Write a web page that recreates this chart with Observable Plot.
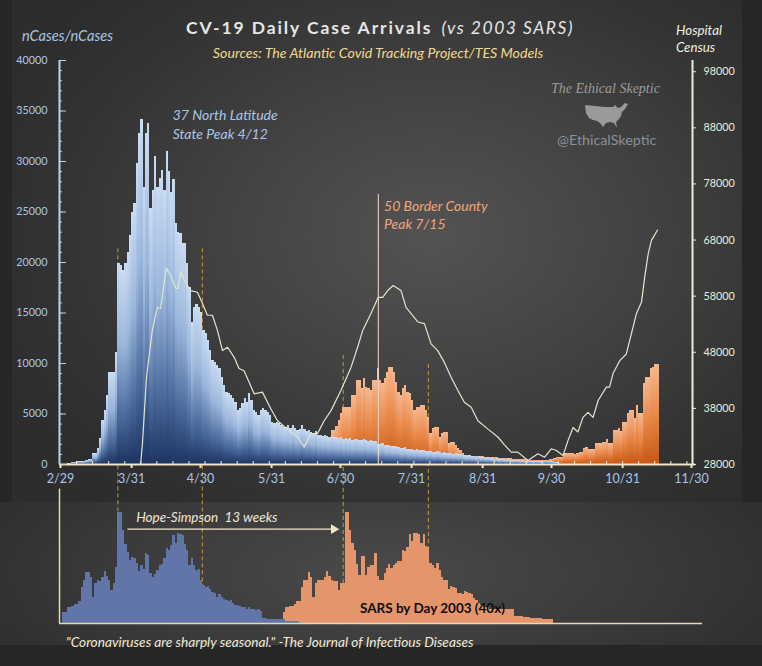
<!DOCTYPE html>
<html><head><meta charset="utf-8">
<script src="https://cdn.jsdelivr.net/npm/d3@7"></script>
<script src="https://cdn.jsdelivr.net/npm/@observablehq/plot@0.6"></script>
<style>
html,body{margin:0;padding:0;background:#262626;}
#wrap{position:relative;width:762px;height:666px;overflow:hidden;font-family:Lato,"Open Sans",sans-serif;}
.abs{position:absolute;white-space:nowrap;}
#mainbg{left:12px;top:0;width:730px;height:502px;background:radial-gradient(ellipse 470px 330px at 420px 235px,#535353 0%,#424242 45%,#333 80%,#2d2d2d 100%);}
#botbg{left:0;top:502px;width:762px;height:143px;background:radial-gradient(ellipse 430px 150px at 380px 70px,#4a4a4a 0%,#3c3c3c 55%,#2f2f2f 100%);}
</style></head>
<body>
<svg width="0" height="0" style="position:absolute"><defs>
<linearGradient id="blueG" x1="0" y1="0" x2="0" y2="1">
<stop offset="0" stop-color="#cadcf2"/><stop offset="0.4" stop-color="#9bb6dc"/><stop offset="0.75" stop-color="#4d6c9d"/><stop offset="1" stop-color="#1c3462"/>
</linearGradient>
<linearGradient id="orangeG" x1="0" y1="0" x2="0" y2="1">
<stop offset="0" stop-color="#f6b890"/><stop offset="0.5" stop-color="#e8884a"/><stop offset="1" stop-color="#c65812"/>
</linearGradient>
</defs></svg>
<div id="wrap">
<div id="mainbg" class="abs"></div>
<div id="botbg" class="abs"></div>
<div id="main" class="abs" style="left:0;top:0"></div>
<div id="over" class="abs" style="left:0;top:0"></div>
<div id="bot" class="abs" style="left:0;top:485px"></div>
<div class="abs" style="left:0;width:760px;top:17px;text-align:center;font-size:17.5px;line-height:22px;color:#e6e6e6;">
<span style="font-weight:700;letter-spacing:1.9px">CV-19 Daily Case Arrivals</span>&nbsp;&nbsp;<span style="font-style:italic;letter-spacing:1.5px">(vs 2003 SARS)</span></div>
<div class="abs" style="left:0;width:756px;top:44px;text-align:center;font-size:14.2px;line-height:18px;font-style:italic;color:#f1d98e;">Sources: The Atlantic Covid Tracking Project/TES Models</div>
<div class="abs" style="left:22px;top:27px;font-size:14.6px;line-height:18px;font-style:italic;color:#a8c4e4;">nCases/nCases</div>
<div class="abs" style="left:676px;top:22px;font-size:13.3px;line-height:16.5px;font-style:italic;color:#eef0e0;">Hospital<br>Census</div>
<div class="abs" style="left:551px;top:80px;font-size:14px;line-height:18px;font-style:italic;font-family:'Liberation Serif',serif;color:#9c9c9c;">The Ethical Skeptic</div>
<svg class="abs" style="left:585px;top:102px" width="43" height="27" viewBox="0 0 43 27"><path d="M0,3 L10,4 L20,5 L28,5 L30,3 L33,6 L36,5 L40,1 L43,2 L40,7 L37,10 L36,14 L34,17 L31,20 L32,26 L29,21 L25,20 L21,21 L18,25 L15,21 L12,19 L8,18 L4,16 L1,11 Z" fill="#9a9a9a"/></svg>
<div class="abs" style="left:557px;top:131px;font-size:14.3px;line-height:18px;color:#8a9098;">@EthicalSkeptic</div>
<div class="abs" style="left:66px;top:633px;font-size:13.7px;line-height:18px;font-style:italic;color:#efe9d5;">"Coronaviruses are sharply seasonal." -The Journal of Infectious Diseases</div>
</div>
<script>
// ---------- data ----------
const monthTickDates = ["2020-02-29","2020-03-31","2020-04-30","2020-05-31","2020-06-30","2020-07-31","2020-08-31","2020-09-30","2020-10-31","2020-11-30"];
const monthTickLabels = ["2/29","3/31","4/30","5/31","6/30","7/31","8/31","9/30","10/31","11/30"];
const leftTicks = [0,5000,10000,15000,20000,25000,30000,35000,40000];
const rightTicks = [28000,38000,48000,58000,68000,78000,88000,98000];

// day offsets are counted from 2/29/2020
const blueStart = 1;
const blueCases = [30,40,50,80,230,200,250,280,260,300,400,480,500,1050,1050,1580,2540,4360,5350,6830,9140,9140,9140,11120,
19870,19700,19200,19930,21020,22670,24980,25800,29770,32740,34150,27450,32740,33730,25310,27130,30500,27450,28280,29100,27130,31020,29000,
26960,28210,23830,23000,22840,21850,21850,19870,17550,14090,15570,15840,15570,15080,13270,12940,12280,11290,10300,10130,9800,9470,8640,7820,7160,6990,6830,6500,6170,5350,5510,6010,6500,6170,6990,6340,5350,5180,4850,5350,5510,5350,5180,4850,4190,4030,4190,4030,3860,3700,3700,3860,3530,3860,3530,3370,3500,
3860,3500,3300,3400,3200,3100,3300,2900,2870,2800,2900,2750,2700,2800,2700,2650,2600,2700,2500,2600,2450,2550,2400,2500,2450,2400,2350,2450,2400,2300,2350,2300,2250,2000,1950,2050,1900,1850,1900,1800,1750,1800,1700,1600,1550,1650,1500,1450,1500,1400,1450,1400,1350,1400,1300,1250,1300,1200,1150,1250,1200,1100,1150,1100,1050,1100,1000,1050,950,1000,900,850,800,850,750,800,700,750,650,700,600,650,600,550,500,550,450,500,450,400,450,400,350,400,350,300,350,300,250,300,280,250,300,280,250,300,320,300,280,250,200,150];

const orangeStart = 118;
const orangeCases = [3370,3370,3800,4360,5050,5670,5670,5670,5670,6830,6830,8310,8310,7490,8480,7650,7490,7320,8310,8310,9470,8310,7990,8480,9140,9630,9630,9140,8150,7160,6830,7490,7820,7160,6990,6340,5350,5670,5670,5840,5840,5350,4690,3040,3530,3700,3700,2700,3040,3200,3200,2050,2210,2210,1880,1550,1390,1060,
900,880,850,820,800,800,780,760,750,720,700,
700,680,650,650,620,600,600,580,560,550,540,520,500,500,
480,460,450,440,430,420,420,400,400,380,400,420,450,500,600,
730,730,730,1060,1060,1100,1060,1060,1000,1060,1220,1220,1620,1650,1500,1500,1450,2050,2100,2050,2210,2210,2440,2050,2100,3370,3370,3530,3270,4190,4190,5020,5350,5350,4520,5840,5020,5020,7990,8640,8640,9470,9630,9900,9900];

const censusDays = [34.9,35.7,37.5,40.0,42.2,43.6,46.1,48.0,50.2,51.2,52.4,54.5,56.7,59.7,61.9,64.0,66.2,68.4,70.6,72.8,75.7,77.8,80.0,84.4,88.0,91.7,94.6,98.9,103.3,106.2,109.1,112.0,114.9,117.9,122.2,126.6,129.5,131.7,135.3,138.5,140.4,142.6,145.0,148.4,150.6,152.8,155.7,158.6,161.5,164.4,167.3,170.2,173.2,176.0,179.0,181.9,186.3,190.6,193.5,196.4,199.3,203.7,208.1,211.0,213.9,216.1,219.0,221.2,223.4,225.5,227.7,229.9,232.1,234.3,237.9,239.3,240.8,243.7,246.6,248.8,251.0,253.2,254.6,256.1,257.5,260.2];
const censusValues = [28000,31700,43600,51900,56000,55800,63000,61700,59400,59400,62300,60500,59000,58700,56700,54600,54600,51900,48300,48900,47100,45100,44700,40600,40900,37900,35800,34300,32900,31100,33500,33500,35800,37600,41200,45300,48900,51900,54900,57800,57800,59000,59900,59000,56000,54900,53400,53100,49500,48300,46200,43600,41200,39100,38200,35800,34300,32900,31500,30200,30200,28700,29900,29300,30800,30500,29600,32300,34600,33800,36400,37300,36400,39400,41800,41800,44200,46500,47700,51300,54900,56900,61400,65500,67900,69800];

const sarsBlueStart = 1;
const sarsBlue = [9.4,9.4,13.6,13.6,14.4,15.8,15.8,18,30,36,42.8,42.8,38,22,33,36,35,38,43,39,36,27.5,33,47,92.8,92.8,77.5,66,59,52.5,55,54,50,43,48,45,58,57,42,38,41,44,48,49,54,62.5,61,65,73,67,75,74,73,66,61,48,54,48,44,45,36,32,30,31,28,26,25,22,24,22,20,19,18,19,16.7,15.3,15.3,14.4,13.6,13,12,13.6,12,12,10.6,12,10,4,4,3,3,3,3,3,3,3,3,1.6,1.6,1.6,1.6,1.6,1.6];
const sarsOrangeStart = 97;
const sarsOrange = [9.4,13.6,13.6,14.4,14.4,15.8,18,18,30,36,36,42.8,38,22,33,36,36,36,38,43,39,36,35,35,27.5,33,33,92.8,92.8,77.5,67,61,49,40,56,56,40,47,48,48,58,39,36,36,42,46,49,46,48,50,52,52,61,60,63,74.5,68.5,75,75,74,67,74,64,63,50,48,46,50,44,38,36,36,28,30.5,30,29,25,25,24,27,26,25,24,21,19,17,15,14,13.6,13.6,12,12,12,12,12,12,12,12,12,12,12,6,6,6,6,5,5,5,4,4,4,4,4,3,3,3,3,3];

const dashDays = [25, 61.8, 123.2, 160.3];
const dashTops = [21350, 21350, 10800, 9900];
const dashBottomCases = -15740;   // SARS panel baseline, expressed in case units
const peakLineDay = 138.5, peakLineTop = 26730;
const annotations = [
  {day:48.9, value:33760, text:"37 North Latitude\nState Peak 4/12", color:"#a9c6e8"},
  {day:141, value:24815, text:"50 Border County\nPeak 7/15", color:"#f2a677"}
];
const hopeStartDay = 29.4, hopeWeeks = 13, hopeLevel = 78.6;
const sarsAxisTop = 112;
const hopeNote = {day:33, value:88.3, text:"Hope-Simpson  13 weeks"};
const sarsNote = {day:130.5, value:12, text:"SARS by Day 2003 (40x)"};

// ---------- helpers ----------
const DAY = 864e5, T0 = Date.UTC(2020,1,29);
const day = n => new Date(T0 + n*DAY);
const xDomain = [day(0), day(275)];
const monthDates = monthTickDates.map(s => new Date(s + "T00:00:00Z"));
const monthLabel = d => monthTickLabels[monthDates.findIndex(m => +m === +d)] ?? "";
const weekTicks = d3.range(7, 275, 7).map(day);
const minorLeft = d3.range(0, 40001, 1000);
const toBars = (start, vals) => vals.map((v,i) => ({x1:day(start+i), x2:day(start+i+1), v}));
const layout = {width:762, height:666, marginLeft:60, marginRight:71, marginTop:60, marginBottom:202};
const baseStyle = {background:"transparent", overflow:"visible", fontFamily:"Lato, 'Open Sans', sans-serif"};

const blue = toBars(blueStart, blueCases);
const orange = toBars(orangeStart, orangeCases);
const census = censusDays.map((d,i) => ({x:day(d), v:censusValues[i]}));
const dashes = dashDays.map((d,i) => ({x:day(d), top:dashTops[i]}));

// ---------- main panel ----------
const main = Plot.plot({...layout, style:baseStyle,
  x:{type:"utc", domain:xDomain, label:null},
  y:{domain:[0,40000], label:null},
  marks:[
    Plot.ruleX(dashes, {x:"x", y1:"top", y2:dashBottomCases, stroke:"#c99a3a", strokeWidth:1, strokeDasharray:"4,3"}),
    Plot.rectY(orange, {x1:"x1", x2:"x2", y1:0, y2:"v", fill:"url(#orangeG)", shapeRendering:"crispEdges"}),
    Plot.rectY(blue, {x1:"x1", x2:"x2", y1:0, y2:"v", fill:"url(#blueG)", shapeRendering:"crispEdges"}),
    Plot.ruleX([{x:day(peakLineDay), top:peakLineTop}], {x:"x", y1:0, y2:"top", stroke:"#f7dcc8", strokeWidth:1}),
    Plot.ruleY([0], {stroke:"#f4e6c4", strokeWidth:2, insetLeft:-1, insetRight:-4}),
    Plot.ruleX([xDomain[0]], {y1:0, y2:40000, stroke:"#b9d3ee", strokeWidth:2, dx:-1}),
    Plot.axisY(minorLeft, {tickSize:-3, dx:-1, tickFormat:() => "", stroke:"#b9d3ee", label:null}),
    Plot.axisY(leftTicks, {tickSize:-5, dx:1, tickFormat:() => "", stroke:"#b9d3ee", label:null}),
    Plot.axisY(leftTicks, {tickSize:0, tickPadding:13, tickFormat:d => String(d), fill:"#a9c6e8", fontSize:10.8, label:null}),
    Plot.axisX(weekTicks, {tickSize:-3, tickFormat:() => "", stroke:"#f4ead0", label:null}),
    Plot.axisX(monthDates, {tickSize:4, tickFormat:() => "", stroke:"#f4e6c4", strokeWidth:2, label:null}),
    Plot.axisX(monthDates, {tickSize:0, tickPadding:10, tickFormat:monthLabel, fill:"#a9c6e8", fontSize:12.5, label:null}),
    Plot.text(annotations, {x:d => day(d.day), y:"value", text:"text", fill:"color", textAnchor:"start", fontStyle:"italic", fontSize:14, lineHeight:1.32})
  ]});
document.getElementById("main").append(main);

// ---------- hospital census overlay ----------
const over = Plot.plot({...layout, style:baseStyle,
  x:{type:"utc", domain:xDomain, axis:null, label:null},
  y:{domain:[28000,100000], label:null},
  marks:[
    Plot.line(census, {x:"x", y:"v", stroke:"#dfe6cc", strokeWidth:1.2}),
    Plot.ruleX([xDomain[1]], {y1:28000, y2:100000, stroke:"#e6eed8", strokeWidth:2, dx:1}),
    Plot.axisY(rightTicks, {anchor:"right", tickSize:4, tickPadding:8, tickFormat:d => String(d), stroke:"#e6eed8", fill:"#e6eed8", fontSize:10.8, label:null})
  ]});
document.getElementById("over").append(over);

// ---------- SARS panel ----------
const hope = {x1:day(hopeStartDay), x2:day(hopeStartDay + hopeWeeks*7), y:hopeLevel};
const bot = Plot.plot({width:762, height:181, marginLeft:60, marginRight:71, marginTop:18, marginBottom:43, style:baseStyle,
  x:{type:"utc", domain:xDomain, axis:null, label:null},
  y:{domain:[0,100], axis:null, label:null},
  marks:[
    Plot.rectY(toBars(sarsOrangeStart, sarsOrange), {x1:"x1", x2:"x2", y1:0, y2:"v", fill:"#e5956b", shapeRendering:"crispEdges"}),
    Plot.rectY(toBars(sarsBlueStart, sarsBlue), {x1:"x1", x2:"x2", y1:0, y2:"v", fill:"#6175a8", shapeRendering:"crispEdges"}),
    Plot.ruleX([xDomain[0]], {y1:0, y2:sarsAxisTop, stroke:"#e4dbaa", strokeWidth:1.5, dx:-1}),
    Plot.ruleY([0], {stroke:"#e4dbaa", strokeWidth:1.5, insetLeft:-1, insetRight:-11}),
    Plot.ruleY([hope], {x1:"x1", x2:"x2", y:"y", stroke:"#efe6c8", strokeWidth:1.3}),
    Plot.dot([hope], {x:"x2", y:"y", symbol:"triangle", rotate:90, r:3.6, fill:"#efe6c8", dx:-3}),
    Plot.text([hopeNote], {x:d => day(d.day), y:"value", text:"text", fill:"#efe9d6", fontStyle:"italic", fontSize:13.5, textAnchor:"start"}),
    Plot.text([sarsNote], {x:d => day(d.day), y:"value", text:"text", fill:"#0d0d0d", fontWeight:"bold", fontSize:13.5, textAnchor:"start"})
  ]});
document.getElementById("bot").append(bot);
</script>
</body></html>
